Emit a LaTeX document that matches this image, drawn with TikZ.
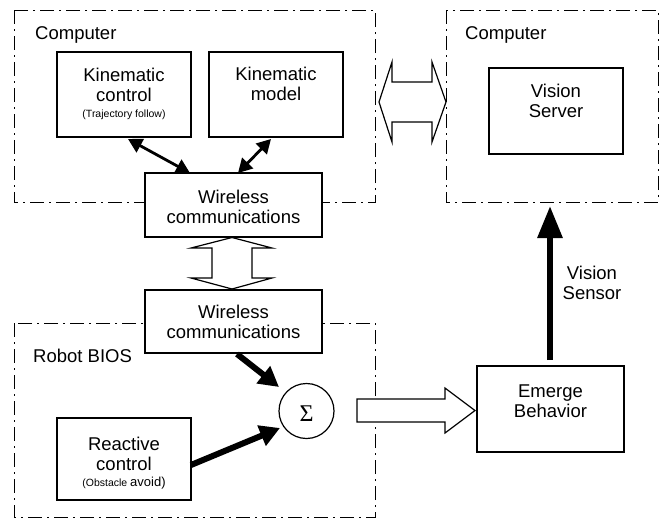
\documentclass[tikz,border=0pt]{standalone}
\usepackage{fontspec}
\setmainfont{Liberation Sans}
\newfontfamily\serifsig{Liberation Serif}
\usetikzlibrary{arrows.meta}
\begin{document}
\begin{tikzpicture}[x=1pt,y=-1pt,
  grp/.style={draw, line width=1pt, dash pattern=on 14pt off 5pt on 2pt off 5pt},
  box/.style={draw, line width=1.3pt, fill=white, inner sep=0pt},
  txt/.style={align=center, font=\fontsize{18.5}{20}\selectfont, inner sep=0pt},
  lbl/.style={anchor=base west, font=\fontsize{18.5}{20}\selectfont, inner sep=0pt},
  thin2/.style={line width=2.8pt, {Triangle[length=14pt,width=15pt]}-{Triangle[length=14pt,width=15pt]}},
  thick6/.style={line width=6pt, -{Triangle[length=20pt,width=21pt]}},
  hollow/.style={draw, line width=1.2pt, fill=white, line join=miter}
]
\useasboundingbox (0,0) rectangle (665,520);

% groups
\draw[grp] (14,10) rectangle (375,202);
\draw[grp] (446,10) rectangle (658,202);
\draw[grp] (14,323) rectangle (375,517);
\node[lbl] (lc1) at (35,39) {Computer};
\node[lbl] (lc2) at (465,39) {Computer};
\node[lbl] (lrb) at (33,362) {Robot BIOS};

% boxes
\node[box, minimum width=134pt, minimum height=85pt] (kc) at (124,94.5) {};
\node[txt] (kct) at (124,93.5) {Kinematic\\control\\[-4pt]{\fontsize{10.5}{12}\selectfont(Trajectory follow)}};
\node[box, minimum width=134pt, minimum height=85pt] (km) at (276,94.5) {};
\node[txt] (kmt) at (276,84) {Kinematic\\model};
\node[box, minimum width=134pt, minimum height=86pt] (vs) at (556,111) {};
\node[txt] (vst) at (556,101) {Vision\\Server};
\node[box, minimum width=177pt, minimum height=64pt] (w1) at (233.5,205) {};
\node[txt] (w1t) at (233.5,207) {Wireless\\communications};
\node[box, minimum width=177pt, minimum height=63pt] (w2) at (233.5,321.5) {};
\node[txt] (w2t) at (233.5,322) {Wireless\\communications};
\node[box, minimum width=134pt, minimum height=82pt] (rc) at (124,459) {};
\node[txt] (rct) at (124,463) {Reactive\\control\\[-4pt]{\fontsize{10.5}{12}\selectfont(Obstacle }{\fontsize{13}{14}\selectfont avoid)}};
\node[box, minimum width=147pt, minimum height=86pt] (eb) at (550.5,409) {};
\node[txt] (ebt) at (550.5,401) {Emerge\\Behavior};
\node[draw, circle, line width=1.2pt, minimum size=55pt, inner sep=0pt] (sg) at (306.5,411) {};
\node[inner sep=0pt, font=\serifsig\fontsize{24}{24}\selectfont] (sgt) at (306.5,414) {Σ};

% kinematic double arrows
\coordinate (kc1) at (128,139);
\coordinate (kc2) at (190,173);
\coordinate (km1) at (271,139);
\coordinate (km2) at (238,173);
\draw[thin2] (kc1) -- (kc2);
\draw[thin2] (km1) -- (km2);

% thick arrows into sigma
\coordinate (w2o) at (237,354);
\coordinate (sgi1) at (279,387);
\coordinate (rco) at (191,465);
\coordinate (sgi2) at (280,428);
\draw[thick6] (w2o) -- (sgi1);
\draw[thick6] (rco) -- (sgi2);

% vision sensor arrow
\coordinate (ebo) at (550,360);
\coordinate (c2in) at (550,206);
\draw[line width=6pt, -{Triangle[length=32pt,width=24pt]}] (ebo) -- (c2in);
\node[txt] (vsl) at (592,283) {Vision\\Sensor};

% hollow double arrow between computers
\draw[hollow] (379,102) -- (392,62) -- (392,82) -- (432,82) -- (432,62) -- (446,102)
  -- (432,142) -- (432,122) -- (392,122) -- (392,142) -- cycle;

% hollow double arrow between wireless boxes
\draw[hollow] (232,237.5) -- (272,248) -- (252,248) -- (252,278) -- (272,278) -- (232,289)
  -- (191,278) -- (212,278) -- (212,248) -- (191,248) -- cycle;

% hollow arrow sigma -> emerge
\draw[hollow] (357,399) -- (445,399) -- (445,388) -- (475,410.5) -- (445,433) -- (445,422) -- (357,422) -- cycle;
\end{tikzpicture}
\end{document}
